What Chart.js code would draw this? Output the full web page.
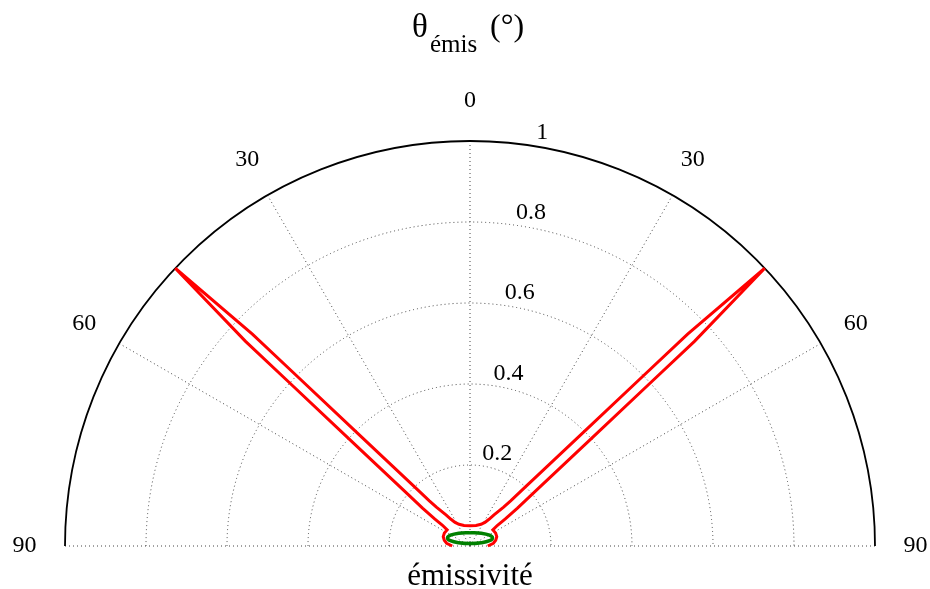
<!DOCTYPE html>
<html>
<head>
<meta charset="utf-8">
<script src="https://cdn.jsdelivr.net/npm/chart.js@4.4.0/dist/chart.umd.min.js"></script>
<style>
  html, body { margin: 0; padding: 0; background: #fff; }
  #wrap { width: 930px; height: 589px; position: relative; }
</style>
</head>
<body>
<div id="wrap"><canvas id="chart"></canvas></div>
<script>
// emission angle (deg, 0 = normal, negative to the left) and emissivity
const redTheta = [-90, -83.4, -77.5, -70.8, -63, -54.8, -53.0, -52.5, -51.41, -50.23, -49.06, -48.47, -47.88, -47.64, -46.7,
  -45.76, -45.52, -44.93, -44.34, -43.17, -41.99, -40.8, -37.7, -35.4, -32.3, -26.8, -16.2, 0,
  16.2, 26.8, 32.3, 35.4, 37.7, 40.8, 41.99, 43.17, 44.34, 44.93, 45.52, 45.76,
  46.7, 47.64, 47.88, 48.47, 49.06, 50.23, 51.41, 52.5, 53.0, 54.8, 63, 70.8, 77.5, 83.4, 90];
const redR = [0.044, 0.058, 0.065, 0.070, 0.071, 0.069, 0.085, 0.110, 0.150, 0.200, 0.300, 0.400, 0.600, 0.750, 1.0,
  0.750, 0.600, 0.400, 0.300, 0.200, 0.150, 0.127, 0.097, 0.081, 0.069, 0.060, 0.053, 0.050,
  0.053, 0.060, 0.069, 0.081, 0.097, 0.127, 0.150, 0.200, 0.300, 0.400, 0.600, 0.750,
  1.0, 0.750, 0.600, 0.400, 0.300, 0.200, 0.150, 0.110, 0.085, 0.069, 0.071, 0.070, 0.065, 0.058, 0.044];

const greenTheta = [0, 41.4, 61.1, 70.4, 74.9, 73.9, 0, -73.9, -74.9, -70.4, -61.1, -41.4, 0];
const greenR = [0.033, 0.042, 0.055, 0.059, 0.050, 0.029, 0.006, 0.029, 0.050, 0.059, 0.055, 0.042, 0.033];

const ringValues = [0.2, 0.4, 0.6, 0.8, 1];
const ringLabels = ['0.2', '0.4', '0.6', '0.8', '1'];
const spokeAngles = [-90, -60, -30, 0, 30, 60, 90];
const spokeLabels = ['90', '60', '30', '0', '30', '60', '90'];

const SERIF = '"Liberation Serif", "Times New Roman", serif';

function toXY(thetas, rs) {
  return thetas.map((t, i) => {
    const a = t * Math.PI / 180;
    return { x: rs[i] * Math.sin(a), y: rs[i] * Math.cos(a) };
  });
}

const polarGrid = {
  id: 'polarGrid',
  beforeDatasetsDraw(chart) {
    const ctx = chart.ctx;
    const sx = chart.scales.x, sy = chart.scales.y;
    const cx = sx.getPixelForValue(0), cy = sy.getPixelForValue(0);
    const rad = v => sx.getPixelForValue(v) - cx;
    ctx.save();
    ctx.strokeStyle = '#444';
    ctx.lineWidth = 1;
    ctx.setLineDash([1, 3]);
    ringValues.slice(0, -1).forEach(v => {
      ctx.beginPath();
      ctx.arc(cx, cy, rad(v), Math.PI, 2 * Math.PI);
      ctx.stroke();
    });
    spokeAngles.forEach(t => {
      const a = t * Math.PI / 180;
      ctx.beginPath();
      ctx.moveTo(cx, cy);
      ctx.lineTo(sx.getPixelForValue(Math.sin(a)), sy.getPixelForValue(Math.cos(a)));
      ctx.stroke();
    });
    ctx.setLineDash([]);
    ctx.strokeStyle = '#000';
    ctx.lineWidth = 1.8;
    ctx.beginPath();
    ctx.arc(cx, cy, rad(1), Math.PI, 2 * Math.PI);
    ctx.stroke();
    ctx.restore();
  },
  afterDraw(chart) {
    const ctx = chart.ctx;
    const sx = chart.scales.x, sy = chart.scales.y;
    const cx = sx.getPixelForValue(0);
    ctx.save();
    ctx.fillStyle = '#000';
    ctx.font = '24px ' + SERIF;
    ctx.textAlign = 'center';
    ctx.textBaseline = 'middle';
    spokeAngles.forEach((t, i) => {
      const a = t * Math.PI / 180;
      ctx.fillText(spokeLabels[i], sx.getPixelForValue(1.1 * Math.sin(a)), sy.getPixelForValue(1.1 * Math.cos(a)));
    });
    // ring labels sit just right of the 8 degree ray
    ctx.textAlign = 'left';
    ctx.textBaseline = 'alphabetic';
    const la = 8 * Math.PI / 180;
    ringValues.forEach((v, i) => {
      const dx = v === 1 ? 10 : 1;
      ctx.fillText(ringLabels[i], sx.getPixelForValue(v * Math.sin(la)) + dx, sy.getPixelForValue(v * Math.cos(la)) - 6);
    });

    // title: theta_emis (deg)
    ctx.font = '33px ' + SERIF;
    ctx.fillText('θ', 412, 37);
    ctx.font = '25px ' + SERIF;
    ctx.fillText('émis', 430, 52);
    ctx.font = '32px ' + SERIF;
    ctx.fillText('(°)', 490, 36);

    ctx.textAlign = 'center';
    ctx.font = '31px ' + SERIF;
    ctx.fillText('émissivité', cx, 585);
    ctx.restore();
  }
};

new Chart(document.getElementById('chart'), {
  type: 'scatter',
  data: {
    datasets: [
      {
        data: toXY(redTheta, redR),
        showLine: true,
        borderColor: '#ff0000',
        borderWidth: 3,
        pointRadius: 0,
        tension: 0,
        clip: false
      },
      {
        data: toXY(greenTheta, greenR),
        showLine: true,
        borderColor: '#008000',
        borderWidth: 3.5,
        pointRadius: 0,
        tension: 0.4,
        clip: false
      }
    ]
  },
  options: {
    responsive: true,
    maintainAspectRatio: false,
    animation: false,
    layout: { padding: { left: 65, right: 55, top: 141, bottom: 43 } },
    scales: {
      x: { type: 'linear', min: -1, max: 1, display: false },
      y: { type: 'linear', min: 0, max: 1, display: false }
    },
    plugins: {
      legend: { display: false },
      tooltip: { enabled: false }
    }
  },
  plugins: [polarGrid]
});
</script>
</body>
</html>
